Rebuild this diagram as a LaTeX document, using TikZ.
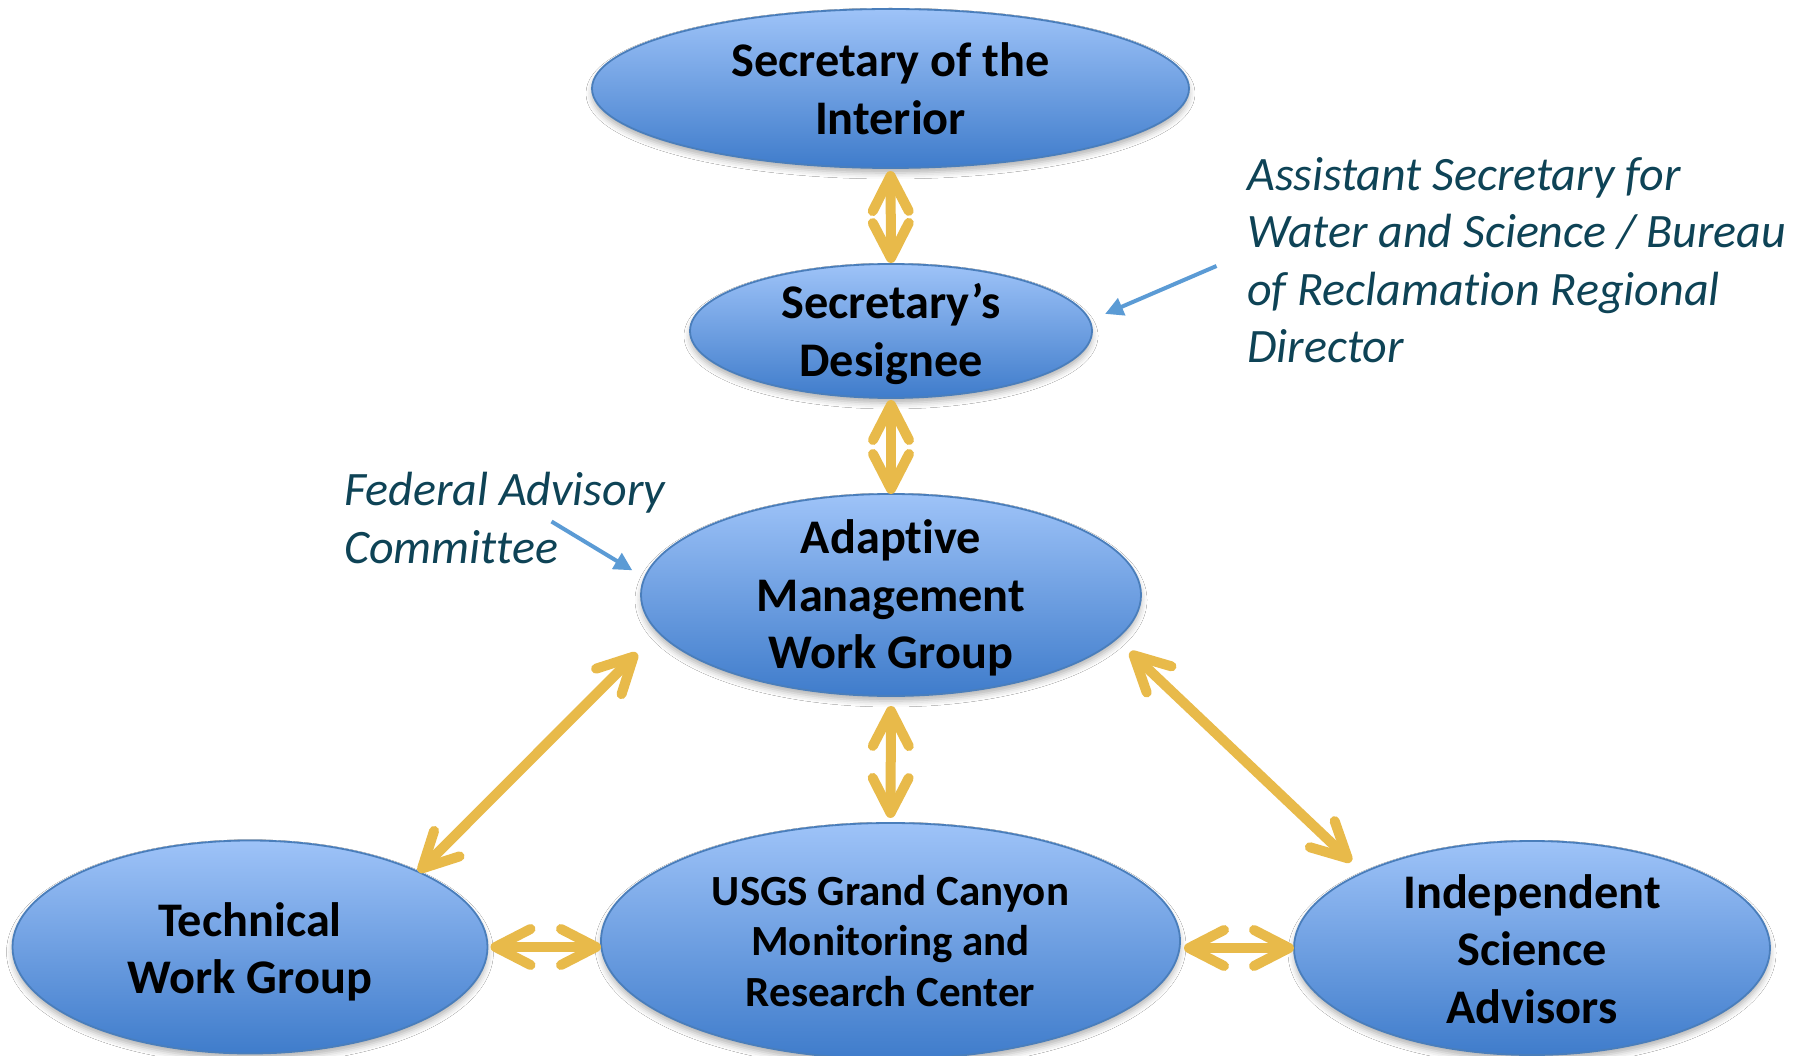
\documentclass[tikz,border=0pt]{standalone}
\usepackage{fontspec}
\setmainfont{Carlito}[Ligatures=NoCommon]
\usetikzlibrary{shapes.geometric,arrows.meta,shadows.blur,calc}
\definecolor{gold}{HTML}{E8BA4A}
\definecolor{ablue}{HTML}{5B9BD5}
\definecolor{edgeblue}{HTML}{4A7EBB}
\definecolor{topblue}{HTML}{9EC3F8}
\definecolor{botblue}{HTML}{3F7CCB}
\definecolor{noteteal}{HTML}{0E4356}
\begin{document}
\begin{tikzpicture}[x=1pt,y=-1pt,
  oval/.style={ellipse, draw=edgeblue, line width=1.8pt, top color=topblue, bottom color=botblue,
    inner sep=0pt, outer sep=0pt,
    blur shadow={shadow xshift=0pt, shadow yshift=-5pt, shadow blur radius=6pt, shadow opacity=30}},
  ovaltext/.style={align=center, inner sep=0pt, text=black, font=\fontsize{48.3}{57.5}\selectfont\bfseries},
  smalltext/.style={align=center, inner sep=0pt, text=black, font=\fontsize{43}{50.6}\selectfont\bfseries},
  note/.style={align=left, inner sep=0pt, text=noteteal, font=\fontsize{48}{57.5}\selectfont\itshape},
  dbl/.style={gold, line width=10pt,
    {Straight Barb[round,length=35pt,width=36pt]}-{Straight Barb[round,length=35pt,width=36pt]}},
  bluearr/.style={ablue, line width=4pt, -{Triangle[length=18pt,width=18pt]}}
]
\fill[white] (0,0) rectangle (1802,1056);
\useasboundingbox (0,0) rectangle (1802,1056);

\node[oval, minimum width=597pt, minimum height=159pt,
  label={[ovaltext]center:{Secretary of the\\Interior}}] (sec) at (890.5,88.5) {};
\node[oval, minimum width=402pt, minimum height=134pt,
  label={[ovaltext, yshift=-3pt]center:{Secretary’s\\Designee}}] (des) at (891,331) {};
\node[oval, minimum width=500pt, minimum height=202pt,
  label={[ovaltext, yshift=-3pt]center:{Adaptive\\Management\\Work Group}}] (amwg) at (891,595) {};
\node[oval, minimum width=475pt, minimum height=213pt,
  label={[ovaltext, yshift=-5pt]center:{Technical\\Work Group}}] (tech) at (250,947) {};
\node[oval, minimum width=579pt, minimum height=236pt,
  label={[smalltext]center:{USGS Grand Canyon\\Monitoring and\\Research Center}}] (usgs) at (890.5,941) {};
\node[oval, minimum width=476pt, minimum height=214pt,
  label={[ovaltext, yshift=-1pt]center:{Independent\\Science\\Advisors}}] (isa) at (1532,948) {};

\node[note, anchor=north west] (asnote) at (1247,157)
  {Assistant Secretary for\\Water and Science / Bureau\\of Reclamation Regional\\Director};
\node[note, anchor=north west] (fednote) at (344,472) {Federal Advisory\\Committee};

\draw[dbl, shorten <=3pt, shorten >=1pt] (sec.south) -- (des.north);
\draw[dbl, shorten <=2pt] (des.south) -- (amwg.north);
\draw[dbl, shorten <=10pt, shorten >=5pt] (amwg.south) -- (usgs.north);
\draw[dbl, shorten <=30pt] (amwg.189.5) -- (tech.24);
\draw[dbl, shorten <=19pt, shorten >=16pt] (amwg.349.6) -- (isa.156.2);
\draw[dbl, shorten <=3pt] (tech.east) -- (tech.east -| usgs.west);
\draw[dbl, shorten <=4pt] (usgs.east |- isa.west) -- (isa.west);

\coordinate (p1) at (1216.5,266);
\coordinate (p2) at (551.5,521.5);
\draw[bluearr, shorten >=17pt] (p1) -- (des.3.3);
\draw[bluearr, shorten >=14.5pt] (p2) -- (amwg.176.4);
\end{tikzpicture}
\end{document}
